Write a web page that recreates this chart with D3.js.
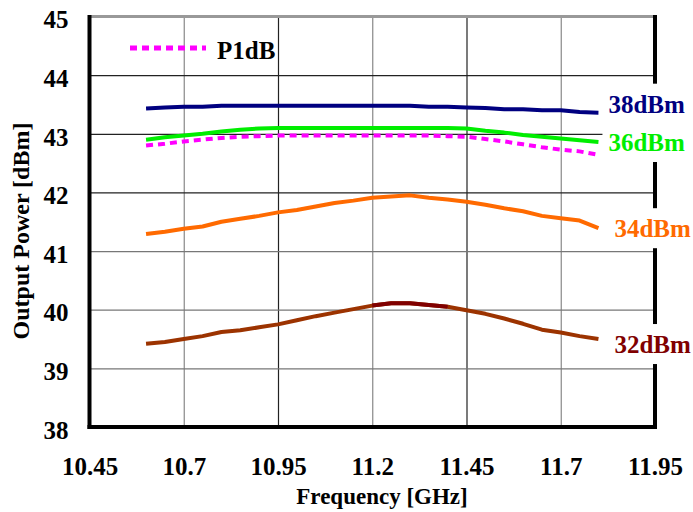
<!DOCTYPE html>
<html>
<head>
<meta charset="utf-8">
<script src="https://cdn.jsdelivr.net/npm/d3@7"></script>
<style>
  body { margin: 0; background: #fff; }
  svg text { font-family: "Liberation Serif", "Times New Roman", Times, serif !important; font-weight: bold; }
</style>
</head>
<body>
<div id="chart"></div>
<script>
// frequency points (GHz) shared by every curve
const freq = [10.6, 10.65, 10.7, 10.75, 10.8, 10.85, 10.9, 10.95, 11.0, 11.05, 11.1, 11.15,
              11.2, 11.25, 11.3, 11.35, 11.4, 11.45, 11.5, 11.55, 11.6, 11.65, 11.7, 11.75, 11.8];

// output power (dBm) for each input drive level
const out38 = [43.43, 43.45, 43.46, 43.46, 43.48, 43.48, 43.48, 43.48, 43.48, 43.48, 43.48, 43.48,
               43.48, 43.48, 43.48, 43.46, 43.46, 43.45, 43.44, 43.42, 43.42, 43.40, 43.40, 43.37, 43.36];
const out36 = [42.90, 42.94, 42.97, 43.00, 43.04, 43.07, 43.09, 43.10, 43.10, 43.10, 43.10, 43.10,
               43.10, 43.10, 43.10, 43.10, 43.10, 43.09, 43.05, 43.02, 42.98, 42.95, 42.92, 42.89, 42.86];
const p1dB  = [42.80, 42.83, 42.87, 42.90, 42.93, 42.95, 42.96, 42.97, 42.97, 42.97, 42.97, 42.97,
               42.97, 42.97, 42.97, 42.97, 42.96, 42.95, 42.91, 42.87, 42.82, 42.77, 42.73, 42.70, 42.64];
const out34 = [41.29, 41.33, 41.38, 41.42, 41.50, 41.55, 41.60, 41.66, 41.70, 41.76, 41.82, 41.86,
               41.91, 41.93, 41.95, 41.91, 41.88, 41.84, 41.79, 41.73, 41.68, 41.60, 41.56, 41.52, 41.39];
const out32 = [39.42, 39.45, 39.50, 39.55, 39.62, 39.65, 39.70, 39.75, 39.82, 39.89, 39.95, 40.01,
               40.07, 40.11, 40.11, 40.08, 40.05, 39.99, 39.93, 39.85, 39.76, 39.66, 39.61, 39.55, 39.50];

const xTicks = [10.45, 10.7, 10.95, 11.2, 11.45, 11.7, 11.95];
const yTicks = [38, 39, 40, 41, 42, 43, 44, 45];

const width = 693, height = 512;
const margin = {top: 16.5, right: 38, bottom: 85, left: 89.5};
const serif = "'Liberation Serif', 'Times New Roman', Times, serif";

const svg = d3.select("#chart").append("svg")
  .attr("width", width)
  .attr("height", height)
  .attr("font-family", serif);

const x = d3.scaleLinear().domain([10.45, 11.95]).range([margin.left, width - margin.right]);
const y = d3.scaleLinear().domain([38, 45]).range([height - margin.bottom, margin.top]);

// ---------------------------------------------------------------------------
// grid
// ---------------------------------------------------------------------------
svg.append("g")
  .attr("transform", "translate(0," + (height - margin.bottom) + ")")
  .call(d3.axisBottom(x).tickValues(xTicks).tickSize(-(y(38) - y(45))).tickFormat(() => ""))
  .call(g => g.select(".domain").remove())
  .selectAll(".tick line")
  .attr("stroke", (d, i) => i % 2 ? "#888" : "#222")
  .attr("stroke-width", 1.2);

svg.append("g")
  .attr("transform", "translate(" + margin.left + ",0)")
  .call(d3.axisLeft(y).tickValues(yTicks).tickSize(-(x(11.95) - x(10.45))).tickFormat(() => ""))
  .call(g => g.select(".domain").remove())
  .selectAll(".tick line")
  .attr("stroke", d => d >= 42 ? "#222" : "#777")
  .attr("stroke-width", 1.2);

// tick labels
svg.append("g")
  .attr("transform", "translate(0," + (height - margin.bottom) + ")")
  .call(d3.axisBottom(x).tickValues(xTicks).tickSize(0).tickPadding(30).tickFormat(d3.format("")))
  .call(g => g.select(".domain").remove())
  .attr("font-family", serif)
  .selectAll("text")
  .attr("fill", "#000")
  .style("font-size", "25px");

svg.append("g")
  .attr("transform", "translate(" + margin.left + ",0)")
  .call(d3.axisLeft(y).tickValues(yTicks).tickSize(0).tickPadding(21).tickFormat(d3.format("d")))
  .call(g => g.select(".domain").remove())
  .attr("font-family", serif)
  .selectAll("text")
  .attr("fill", "#000")
  .attr("dy", "0.45em")
  .style("font-size", "25px");

// frame
const x0 = x(10.45), x1 = x(11.95), y0 = y(45), y1 = y(38);
svg.append("line").attr("x1", x0).attr("x2", x1).attr("y1", y0).attr("y2", y0)
  .attr("stroke", "#999").attr("stroke-width", 3);
svg.append("line").attr("x1", x0).attr("x2", x0).attr("y1", y0 - 1.5).attr("y2", y1 + 2)
  .attr("stroke", "#000").attr("stroke-width", 4);
svg.append("line").attr("x1", x0 - 2).attr("x2", x1 + 2).attr("y1", y1).attr("y2", y1)
  .attr("stroke", "#000").attr("stroke-width", 4);
svg.append("line").attr("x1", x1).attr("x2", x1).attr("y1", y0 - 1.5).attr("y2", y1 + 2)
  .attr("stroke", "#000").attr("stroke-width", 4);

// ---------------------------------------------------------------------------
// curves
// ---------------------------------------------------------------------------
const line = d3.line()
  .x(d => x(d[0]))
  .y(d => y(d[1]));

const pairs = vals => freq.map((f, i) => [f, vals[i]]);

const curves = [
  {vals: out32, color: "#9c3300"},
  {vals: out34, color: "#ff6a00"},
  {vals: p1dB, color: "#ff00ff", dash: "7,5"},
  {vals: out36, color: "#00ee00"},
  {vals: out38, color: "#000080"}
];

curves.forEach(c => {
  svg.append("path")
    .datum(pairs(c.vals))
    .attr("fill", "none")
    .attr("stroke", c.color)
    .attr("stroke-width", 4)
    .attr("stroke-linejoin", "round")
    .attr("stroke-dasharray", c.dash || null)
    .attr("d", line);
});

// darker segment around the 32dBm peak
svg.append("path")
  .datum(pairs(out32).filter(d => d[0] >= 11.2 && d[0] <= 11.4))
  .attr("fill", "none")
  .attr("stroke", "#800000")
  .attr("stroke-width", 4)
  .attr("d", line);

// ---------------------------------------------------------------------------
// curve labels (white box hides the frame behind them)
// ---------------------------------------------------------------------------
const labels = [
  {text: "38dBm", color: "#000080", v: 43.36, dx: 10, dy: 0},
  {text: "36dBm", color: "#00ee00", v: 42.86, dx: 10, dy: 9},
  {text: "34dBm", color: "#ff6a00", v: 41.39, dx: 16, dy: 9},
  {text: "32dBm", color: "#800000", v: 39.50, dx: 16, dy: 14}
];

labels.forEach(l => {
  const ly = y(l.v) + l.dy;
  svg.append("rect")
    .attr("x", x(11.8) + l.dx - 6)
    .attr("y", ly - 29)
    .attr("width", 90)
    .attr("height", 40)
    .attr("fill", "#fff");
});
labels.forEach(l => {
  svg.append("text")
    .attr("x", x(11.8) + l.dx)
    .attr("y", y(l.v) + l.dy)
    .attr("fill", l.color)
    .style("font-size", "25px")
    .text(l.text);
});

// legend
svg.append("line")
  .attr("x1", 130).attr("x2", 206).attr("y1", 48).attr("y2", 48)
  .attr("stroke", "#ff00ff").attr("stroke-width", 5).attr("stroke-dasharray", "7,5");
svg.append("text")
  .attr("x", 217).attr("y", 59)
  .style("font-size", "25px")
  .text("P1dB");

// axis titles
svg.append("text")
  .attr("x", 382).attr("y", 504)
  .attr("text-anchor", "middle")
  .style("font-size", "23px")
  .text("Frequency [GHz]");

svg.append("text")
  .attr("transform", "translate(29,231) rotate(-90)")
  .attr("text-anchor", "middle")
  .style("font-size", "24px")
  .text("Output Power [dBm]");
</script>
</body>
</html>
